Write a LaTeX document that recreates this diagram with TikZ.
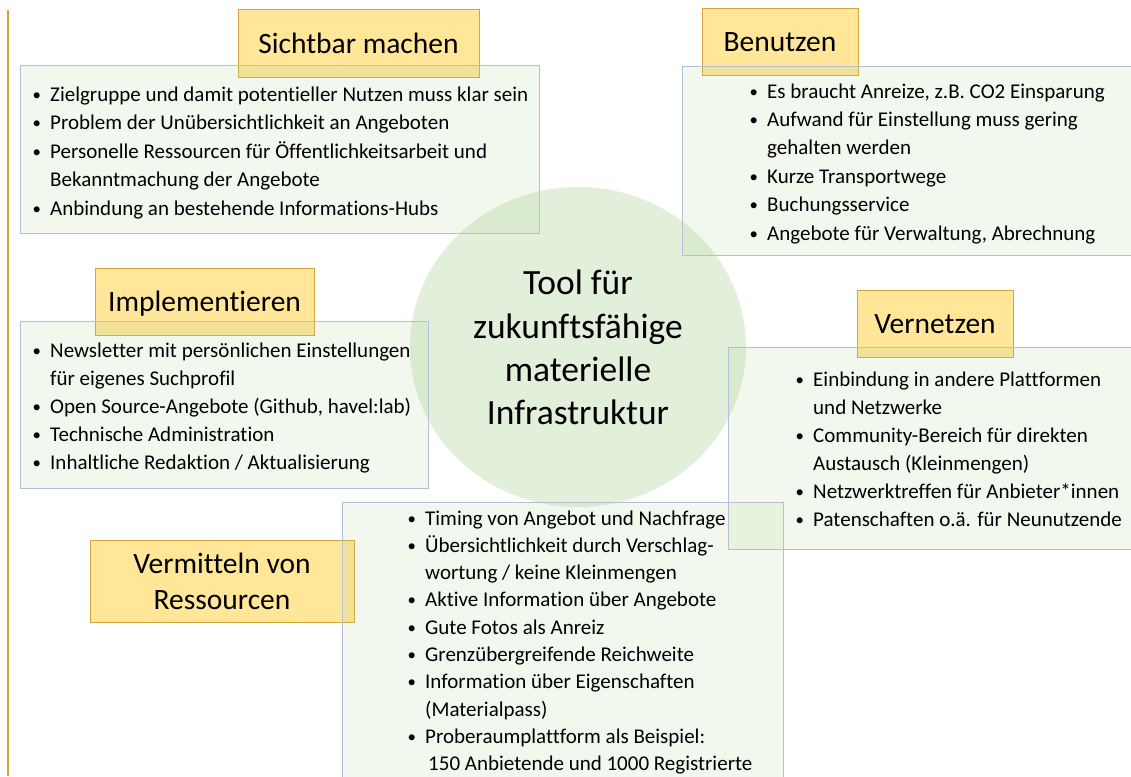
\documentclass[tikz,border=0pt]{standalone}
\usepackage{fontspec}
\setmainfont{Carlito}[Ligatures={NoCommon}]
\definecolor{lblfill}{HTML}{FFE699}
\definecolor{lbldraw}{HTML}{D4A637}
\definecolor{tboxfill}{HTML}{A9D18E}
\definecolor{tboxdraw}{HTML}{B4C0D6}
\definecolor{circfill}{HTML}{E2EFDA}
\definecolor{orangeline}{HTML}{D9A131}
\newcommand\bitem[1]{\par\hangindent=19pt\hangafter=1\noindent\makebox[19pt][l]{\hspace{1.5pt}\raisebox{1pt}{\scalebox{0.8}{•}}}#1}
\newcommand\blist[2]{\begin{minipage}[t]{600pt}\raggedright\parindent=0pt\parskip=0pt\fontsize{21}{#1}\selectfont #2\end{minipage}}
\begin{document}
\begin{tikzpicture}[x=1pt,y=-1pt,
  lbl/.style={rectangle, draw=lbldraw, line width=1pt, fill=lblfill, inner sep=0pt,
    font=\fontsize{29.5}{36}\selectfont, align=center},
  lbltext/.style={text height=20pt, text depth=0pt},
  tbox/.style={rectangle, draw=tboxdraw, line width=1pt, fill=tboxfill, fill opacity=0.15, draw opacity=1, inner sep=0pt},
  btext/.style={anchor=base west, inner sep=0pt, text=black},
]
\useasboundingbox (0,0) rectangle (1131,776);
\clip (0,0) rectangle (1131,776);
\fill[white] (0,0) rectangle (1131,776);

% left orange rule
\coordinate (ot) at (8,10);
\coordinate (ob) at (8,776);
\draw[orangeline, line width=1.6pt] (ot) -- (ob);

% central ellipse
\coordinate (centre) at (578,347);
\fill[circfill] (centre) ellipse [x radius=168, y radius=160];

% labels
\node[lbl, lbltext, minimum width=241pt, minimum height=67pt] (l1) at (358.5,43.5) {Sichtbar machen};
\node[lbl, lbltext, minimum width=156pt, minimum height=66pt] (l2) at (780,42) {Benutzen};
\node[lbl, lbltext, minimum width=219pt, minimum height=67pt] (l3) at (204.5,301.5) {Implementieren};
\node[lbl, lbltext, minimum width=156pt, minimum height=67pt] (l4) at (935,323.5) {Vernetzen};
\node[lbl, minimum width=264pt, minimum height=82pt] (l5) at (222,581) {Vermitteln von\\Ressourcen};

% text boxes
\node[tbox, minimum width=519pt, minimum height=168pt] (b1) at (279.5,149) {};
\node[tbox, minimum width=458pt, minimum height=189pt] (b2) at (911,160.5) {};
\node[tbox, minimum width=408pt, minimum height=167pt] (b3) at (224,404.5) {};
\node[tbox, minimum width=412pt, minimum height=202pt] (b4) at (934,448) {};
\node[tbox, minimum width=441pt, minimum height=288pt] (b5) at (562.5,646) {};

% centre text
\node[align=center, font=\fontsize{35.5}{43.3}\selectfont, inner sep=0pt] (ct) at (578,347.5)
  {Tool für\\zukunftsfähige\\materielle\\Infrastruktur};

% bullet texts
\node[btext] (t1) at (31,101) {\blist{28.5}{%
\bitem{Zielgruppe und damit potentieller Nutzen muss klar sein}
\bitem{Problem der Unübersichtlichkeit an Angeboten}
\bitem{Personelle Ressourcen für Öffentlichkeitsarbeit und\newline Bekanntmachung der Angebote}
\bitem{Anbindung an bestehende Informations-Hubs}}};

\node[btext] (t2) at (748,98) {\blist{28.4}{%
\bitem{Es braucht Anreize, z.B. CO2 Einsparung}
\bitem{Aufwand für Einstellung muss gering\newline gehalten werden}
\bitem{Kurze Transportwege}
\bitem{Buchungsservice}
\bitem{Angebote für Verwaltung, Abrechnung}}};

\node[btext] (t3) at (31,357) {\blist{28}{%
\bitem{Newsletter mit persönlichen Einstellungen\newline für eigenes Suchprofil}
\bitem{Open Source-Angebote (Github, havel:lab)}
\bitem{Technische Administration}
\bitem{Inhaltliche Redaktion / Aktualisierung}}};

\node[btext] (t4) at (794,386) {\blist{28}{%
\bitem{Einbindung in andere Plattformen\newline und Netzwerke}
\bitem{Community-Bereich für direkten\newline Austausch (Kleinmengen)}
\bitem{Netzwerktreffen für Anbieter*innen}
\bitem{Patenschaften o.ä. für Neunutzende}}};

\node[btext] (t5) at (406,525) {\blist{27.3}{%
\bitem{Timing von Angebot und Nachfrage}
\bitem{Übersichtlichkeit durch Verschlag-\newline wortung / keine Kleinmengen}
\bitem{Aktive Information über Angebote}
\bitem{Gute Fotos als Anreiz}
\bitem{Grenzübergreifende Reichweite}
\bitem{Information über Eigenschaften\newline (Materialpass)}
\bitem{Proberaumplattform als Beispiel:\newline \hspace*{3pt}150 Anbietende und 1000 Registrierte}}};
\end{tikzpicture}
\end{document}
